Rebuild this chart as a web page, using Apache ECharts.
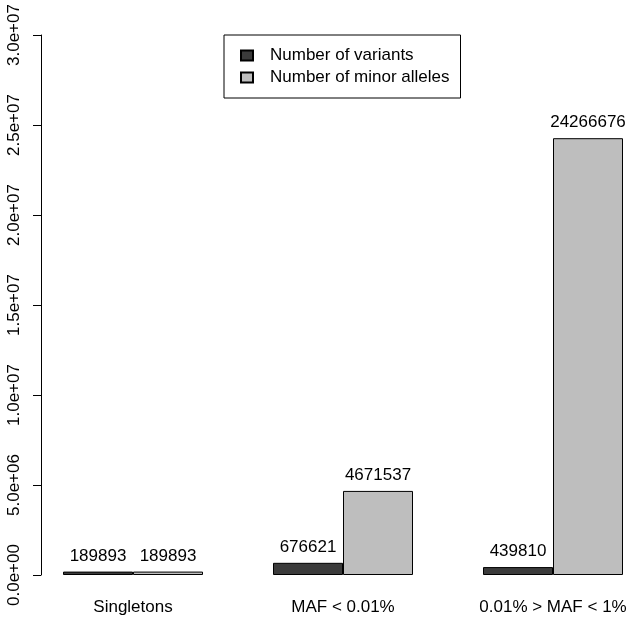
<!DOCTYPE html>
<html>
<head>
<meta charset="utf-8">
<style>
  html, body { margin: 0; padding: 0; background: #fff; }
  #chart { width: 630px; height: 623px; }
</style>
<script src="https://cdn.jsdelivr.net/npm/echarts@6/dist/echarts.min.js"></script>
</head>
<body>
<div id="chart"></div>
<script>
const categories = ['Singletons', 'MAF < 0.01%', '0.01% > MAF < 1%'];
const seriesNames = ['Number of variants', 'Number of minor alleles'];
const numVariants = [189893, 676621, 439810];
const numMinorAlleles = [189893, 4671537, 24266676];
const yTickValues = [0, 5000000, 10000000, 15000000, 20000000, 25000000, 30000000];
const yTickLabels = ['0.0e+00', '5.0e+06', '1.0e+07', '1.5e+07', '2.0e+07', '2.5e+07', '3.0e+07'];

const FONT = '"Liberation Sans", Arial, Helvetica, sans-serif';
const chart = echarts.init(document.getElementById('chart'), null, { renderer: 'canvas' });

function barSeries(name, data, color) {
  return {
    name: name,
    type: 'bar',
    data: data,
    barWidth: 70,
    barGap: '0%',
    itemStyle: { color: color, borderColor: '#000', borderWidth: 1 },
    label: {
      show: true,
      position: 'top',
      distance: 7,
      fontFamily: FONT,
      fontSize: 17,
      color: '#000'
    },
    emphasis: { disabled: true },
    animation: false
  };
}

chart.setOption({
  animation: false,
  backgroundColor: '#fff',
  textStyle: { fontFamily: FONT },
  grid: { left: 28, top: 35, width: 630, height: 540, containLabel: false, outerBoundsMode: 'none' },
  legend: {
    orient: 'vertical',
    left: 224,
    top: 35,
    padding: [12, 11, 12, 16],
    itemGap: 5,
    itemWidth: 12,
    itemHeight: 10,
    borderColor: '#000',
    borderWidth: 1,
    icon: 'rect',
    selectedMode: false,
    textStyle: { fontFamily: FONT, fontSize: 17, color: '#000', padding: [0, 0, 0, 12] },
    data: seriesNames
  },
  xAxis: {
    type: 'category',
    data: categories,
    axisLine: { show: false },
    axisTick: { show: false },
    axisLabel: { fontFamily: FONT, fontSize: 17, color: '#000', margin: 24, interval: 0 }
  },
  yAxis: {
    type: 'value',
    min: 0,
    max: 30000000,
    interval: 5000000,
    offset: -13,
    splitLine: { show: false },
    axisLine: { show: true, lineStyle: { color: '#000', width: 1 } },
    axisTick: { show: true, length: 8, lineStyle: { color: '#000', width: 1 } },
    axisLabel: {
      rotate: 90,
      margin: 18,
      fontFamily: FONT,
      fontSize: 17,
      color: '#000',
      formatter: function (v) {
        const i = yTickValues.indexOf(v);
        return i >= 0 ? yTickLabels[i] : '';
      }
    }
  },
  series: [
    barSeries(seriesNames[0], numVariants, '#3b3b3b'),
    barSeries(seriesNames[1], numMinorAlleles, '#bebebe')
  ]
});
</script>
</body>
</html>
